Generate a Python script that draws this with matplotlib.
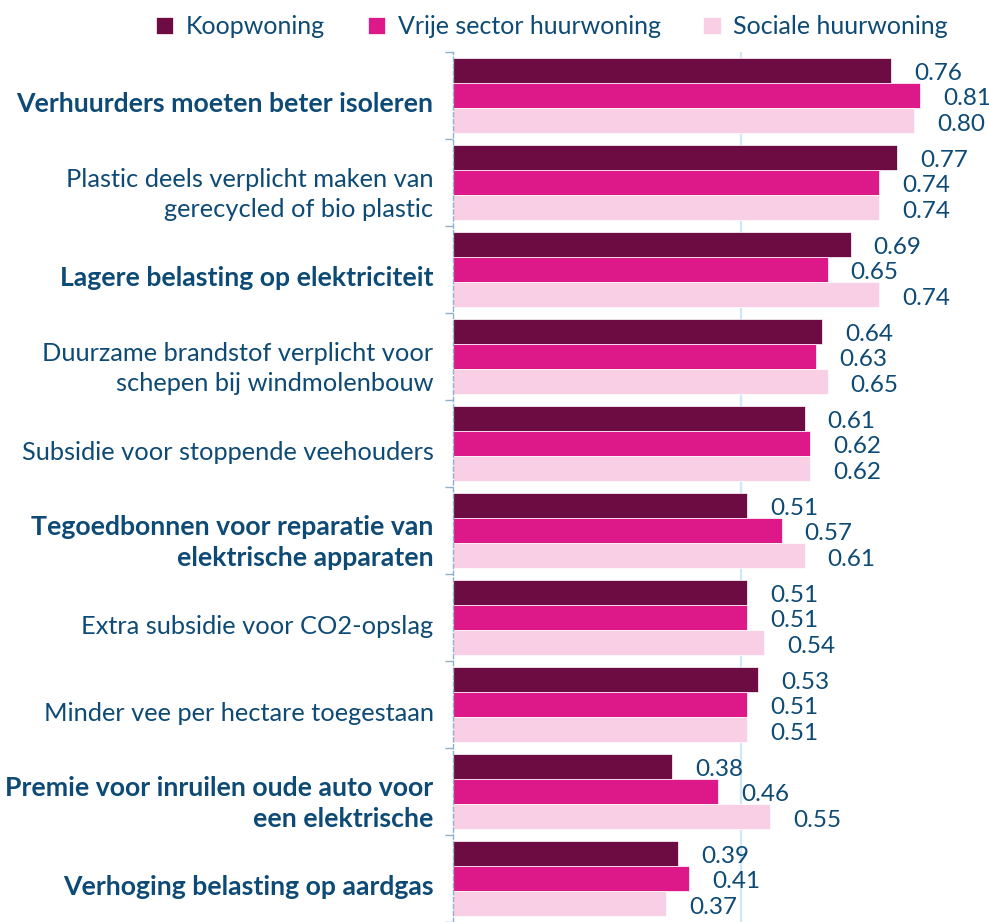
import matplotlib
matplotlib.use('Agg')
import matplotlib.pyplot as plt
import numpy as np

# Maatregelen en gemiddelde steun per woonsituatie
maatregelen = [
    "Verhuurders moeten beter isoleren",
    "Plastic deels verplicht maken van\ngerecycled of bio plastic",
    "Lagere belasting op elektriciteit",
    "Duurzame brandstof verplicht voor\nschepen bij windmolenbouw",
    "Subsidie voor stoppende veehouders",
    "Tegoedbonnen voor reparatie van\nelektrische apparaten",
    "Extra subsidie voor CO2-opslag",
    "Minder vee per hectare toegestaan",
    "Premie voor inruilen oude auto voor\neen elektrische",
    "Verhoging belasting op aardgas",
]
vetgedrukt = [True, False, True, False, False, True, False, False, True, True]

koopwoning = [0.76, 0.77, 0.69, 0.64, 0.61, 0.51, 0.51, 0.53, 0.38, 0.39]
vrije_sector = [0.81, 0.74, 0.65, 0.63, 0.62, 0.57, 0.51, 0.51, 0.46, 0.41]
sociale_huur = [0.80, 0.74, 0.74, 0.65, 0.62, 0.61, 0.54, 0.51, 0.55, 0.37]

reeksen = ["Koopwoning", "Vrije sector huurwoning", "Sociale huurwoning"]
kleuren = ["#6d0b43", "#dd1888", "#f9cfe6"]
tekstkleur = "#0d4a75"

plt.rcParams['font.family'] = ['Lato', 'DejaVu Sans']

fig = plt.figure(figsize=(9.89, 9.22), dpi=100)
ax = fig.add_axes([453 / 989, 0, 1 - 453 / 989, 870 / 922])

y = np.arange(len(maatregelen))
h = 0.29
handles = []
for k, (waarden, kleur, naam) in enumerate(zip([koopwoning, vrije_sector, sociale_huur], kleuren, reeksen)):
    pos = y + (k - 1) * h
    b = ax.barh(pos, waarden, height=h, color=kleur, label=naam,
                edgecolor='white', linewidth=0.5)
    handles.append(b)
    for p, v in zip(pos, waarden):
        ax.text(v + 0.040, p + 0.04, f"{v:.2f}", va='center', ha='left',
                fontsize=17.5, color=tekstkleur)

ax.set_xlim(0, 0.93)
ax.set_ylim(9.42, -0.5)

ax.axvline(0.5, color='#cfe7f8', lw=1.6, zorder=0)

for s in ['top', 'right', 'bottom']:
    ax.spines[s].set_visible(False)
ax.spines['left'].set_color('#8fb0c8')
ax.spines['left'].set_linestyle((0, (3, 2)))
ax.spines['left'].set_linewidth(1)

ax.set_xticks([])
# labels iets onder het midden van de groep
ax.set_yticks(y + 0.08)
ax.set_yticklabels(maatregelen, fontsize=18.3, color=tekstkleur, linespacing=1.32)
for lbl, vet in zip(ax.get_yticklabels(), vetgedrukt):
    if vet:
        lbl.set_fontweight('bold')
        lbl.set_fontsize(19.2)
ax.tick_params(axis='y', which='major', length=0, pad=14)
ax.set_yticks(np.arange(-0.5, len(maatregelen), 1), minor=True)
ax.tick_params(axis='y', which='minor', length=6, color='#8fb0c8', width=1)

fig.legend(handles=handles, labels=reeksen, loc='upper center',
           bbox_to_anchor=(0.558, 1.008), ncol=3, frameon=False,
           handlelength=0.7, handleheight=0.7, handletextpad=0.5,
           columnspacing=1.7, prop={'size': 18}, labelcolor=tekstkleur)

fig.savefig('out.png', dpi=100)
